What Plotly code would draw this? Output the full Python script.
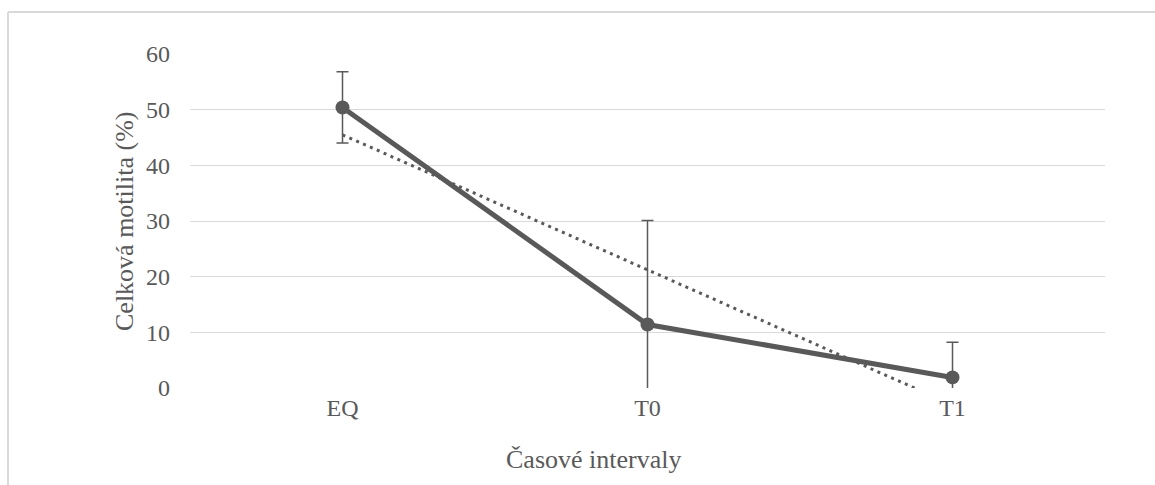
import numpy as np
import plotly.graph_objects as go

categories = ["EQ", "T0", "T1"]
motility = [50.4, 11.4, 1.9]
motility_sd = [6.4, 18.7, 6.3]
y_ticks = [0, 10, 20, 30, 40, 50, 60]

GRAY = "#595959"
GRID = "#d9d9d9"
FONT = "Liberation Serif"

# linear trend line (Excel-style) computed from the data
xi = np.arange(len(categories))
slope, intercept = np.polyfit(xi, motility, 1)
trend = list(slope * xi + intercept)

fig = go.Figure()
fig.add_trace(go.Scatter(
    x=categories, y=trend, mode="lines",
    line=dict(color=GRAY, width=3, dash="3px,4.5px"),
    hoverinfo="skip", showlegend=False))
fig.add_trace(go.Scatter(
    x=categories, y=motility, mode="lines+markers",
    line=dict(color=GRAY, width=5),
    marker=dict(color=GRAY, size=14),
    error_y=dict(type="data", array=motility_sd, color=GRAY, thickness=1.5, width=6),
    showlegend=False))

W, H = 1155, 485
L, R, T, B = 190, 50, 54, 97
pw, ph = W - L - R, H - T - B

def px(x):
    return (x - L) / pw

def py(y):
    return (H - B - y) / ph

fig.update_layout(
    width=W, height=H,
    margin=dict(l=L, r=R, t=T, b=B),
    paper_bgcolor="white", plot_bgcolor="white",
    font=dict(family=FONT, color=GRAY, size=24),
    xaxis=dict(type="category", range=[-0.5, 2.5], showgrid=False, showline=False,
               zeroline=False, ticks="", ticklabelstandoff=3,
               tickfont=dict(family=FONT, size=24, color=GRAY)),
    yaxis=dict(range=[0, 60], tickvals=y_ticks, showgrid=True, gridcolor=GRID,
               gridwidth=1, zeroline=False, showline=False, ticks="",
               ticklabelstandoff=19,
               tickfont=dict(family=FONT, size=24, color=GRAY)),
    shapes=[
        dict(type="line", xref="paper", yref="paper", x0=px(8), x1=px(1160),
             y0=py(12), y1=py(12), line=dict(color=GRID, width=2), layer="below"),
        dict(type="line", xref="paper", yref="paper", x0=px(8), x1=px(8),
             y0=py(12), y1=py(500), line=dict(color=GRID, width=2), layer="below"),
    ],
    annotations=[
        dict(text="Časové intervaly", xref="paper", yref="paper",
             x=px(593), y=py(459), xanchor="center", yanchor="middle",
             showarrow=False, font=dict(family=FONT, size=26, color=GRAY)),
        dict(text="Celková motilita (%)", xref="paper", yref="paper",
             x=px(124), y=py(221), xanchor="center", yanchor="middle",
             textangle=-90, showarrow=False,
             font=dict(family=FONT, size=26, color=GRAY)),
    ],
)

fig.write_html("out.html")
